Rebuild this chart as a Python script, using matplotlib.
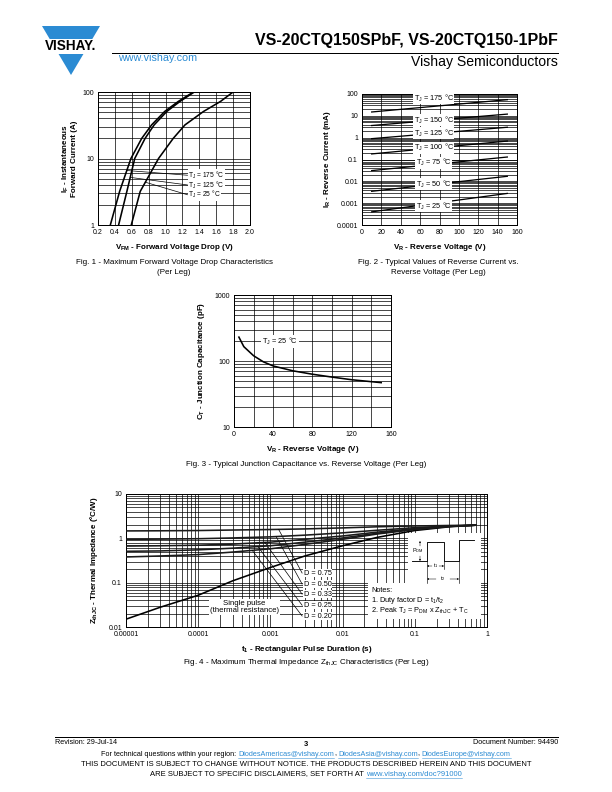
import numpy as np
import matplotlib.pyplot as plt
from matplotlib.patches import Polygon, Rectangle
from matplotlib.ticker import LogLocator, NullFormatter, MultipleLocator

plt.rcParams['font.family'] = ['Liberation Sans', 'DejaVu Sans']
plt.rcParams['mathtext.fontset'] = 'custom'
plt.rcParams['mathtext.rm'] = 'Liberation Sans'
plt.rcParams['mathtext.it'] = 'Liberation Sans:italic'
plt.rcParams['mathtext.bf'] = 'Liberation Sans:bold'

W, H = 612, 792
BLUE = '#2b8bd3'
LAB = 7.4    # in-chart annotation size
AXL = 8      # axis label size
TCK = 7      # tick label size

# Fig. 1 - forward voltage drop (V) at given forward current (A)
if_points = [1, 3.2, 10, 20, 32, 51, 72, 100]
vf_175 = [0.346, 0.456, 0.59, 0.717, 0.835, 0.99, 1.15, 1.33]
vf_125 = [0.444, 0.542, 0.635, 0.757, 0.865, 1.015, 1.17, 1.34]
vf_25 = [0.594, 0.70, 0.917, 1.09, 1.23, 1.45, 1.65, 1.80]
fig1_labels = ['175', '125', '25']
fig1_label_i = [5.6, 4.0, 2.85]
fig1_leader_i = [6.6, 5.2, 4.4]

# Fig. 2 - reverse current (mA) vs reverse voltage (V)
vr_points = [10, 150]
ir_curves = {
    '175': [15, 55],
    '150': [3.6, 12],
    '125': [0.9, 3.0],
    '100': [0.18, 0.7],
    '75': [0.031, 0.13],
    '50': [0.0035, 0.017],
    '25': [0.0004, 0.0028],
}
ir_label_y = [66, 6.5, 1.6, 0.34, 0.07, 0.0076, 0.00074]

# Fig. 3 - junction capacitance (pF) vs reverse voltage (V)
vr_cap = [5, 10, 20, 30, 40, 60, 80, 100, 120, 150]
ct_cap = [230, 165, 120, 97, 84, 71, 63, 57, 52, 47]

# Fig. 4 - thermal impedance (degC/W) vs pulse duration (s)
t_pulse = [1e-5, 3e-5, 1e-4, 3e-4, 1e-3, 3e-3, 1e-2, 3e-2, 0.1, 0.3, 0.7]
z_single = [0.015, 0.028, 0.052, 0.11, 0.22, 0.40, 0.68, 1.05, 1.5, 1.82, 1.98]
z_duty = {
    '0.75': [1.47, 1.48, 1.50, 1.54, 1.58, 1.63, 1.72, 1.82, 1.90, 1.95, 1.98],
    '0.50': [0.95, 0.96, 0.98, 1.02, 1.08, 1.18, 1.33, 1.52, 1.74, 1.90, 1.98],
    '0.33': [0.67, 0.68, 0.70, 0.74, 0.82, 0.95, 1.13, 1.38, 1.65, 1.87, 1.98],
    '0.25': [0.51, 0.52, 0.55, 0.60, 0.68, 0.82, 1.02, 1.30, 1.61, 1.86, 1.98],
    '0.20': [0.38, 0.40, 0.43, 0.49, 0.58, 0.73, 0.95, 1.25, 1.58, 1.85, 1.98],
}
duty_leader_t = [1.3e-3, 1.2e-3, 8.4e-4, 6.7e-4, 5.6e-4]
duty_label_z = [0.165, 0.093, 0.055, 0.031, 0.0177]

fig = plt.figure(figsize=(W / 72, H / 72), dpi=72)


def fxy(x, y):
    return x / W, 1 - y / H


def add_ax(box):
    x0, y0, x1, y1 = box
    return fig.add_axes([x0 / W, 1 - y1 / H, (x1 - x0) / W, (y1 - y0) / H])


def style(ax):
    ax.set_axisbelow(True)
    ax.grid(True, which='both', color='black', lw=0.7)
    ax.tick_params(which='both', length=0, labelsize=TCK, pad=4)
    for s in ax.spines.values():
        s.set_linewidth(1.0)


def log_minor(axis):
    axis.set_minor_locator(LogLocator(base=10, subs=np.arange(2, 10)))
    axis.set_minor_formatter(NullFormatter())


def fig_text(x, y, s, **kw):
    kw.setdefault('fontsize', 8)
    kw.setdefault('va', 'center')
    return fig.text(*fxy(x, y), s, **kw)


# ---------------- header ----------------
fig.patches.append(Polygon([fxy(42, 26), fxy(100, 26), fxy(71, 75)], closed=True,
                           transform=fig.transFigure, color=BLUE, lw=0))
fig.patches.append(Rectangle(fxy(36, 53.5), 70 / W, 15 / H, transform=fig.transFigure,
                             color='white', lw=0))
fig_text(71, 46, 'VISHAY.', ha='center', fontsize=13.5, fontweight='bold')
fig_text(558, 41, 'VS-20CTQ150SPbF, VS-20CTQ150-1PbF', ha='right', fontsize=16,
         fontweight='bold')
fig.lines.append(plt.Line2D([112 / W, 558 / W], [1 - 52.5 / H] * 2, transform=fig.transFigure,
                            color='black', lw=1))
fig_text(118, 58, 'www.vishay.com', ha='left', fontsize=10.7, color=BLUE)
fig_text(558, 62, 'Vishay Semiconductors', ha='right', fontsize=14)

# ---------------- Fig. 1 ----------------
AX1 = (98, 92, 250, 225)
ax1 = add_ax(AX1)
style(ax1)
ax1.set_yscale('log')
ax1.set_xlim(0.2, 2.0)
ax1.set_ylim(1, 100)
ax1.set_xticks(np.arange(0.2, 2.01, 0.2), [f'{v:.1f}' for v in np.arange(0.2, 2.01, 0.2)])
ax1.set_yticks([1, 10, 100], ['1', '10', '100'])
log_minor(ax1.yaxis)
for vf in (vf_175, vf_125, vf_25):
    ax1.plot(vf, if_points, color='black', lw=1.6, zorder=3)
for vf, lab, ly, li in zip((vf_175, vf_125, vf_25), fig1_labels, fig1_label_i, fig1_leader_i):
    v0 = np.interp(np.log10(li), np.log10(if_points), vf)
    ax1.plot([v0, 1.26], [li, ly], color='black', lw=0.7, zorder=3)
    ax1.text(1.27, ly, r'T$_{\mathrm{J}}$ = ' + lab + ' °C', fontsize=6.6, va='center',
             ha='left', zorder=4, bbox=dict(fc='white', ec='none', pad=0.3))
ax1.set_xlabel(r'V$_{\mathbf{FM}}$ - Forward Voltage Drop (V)', fontsize=AXL,
               fontweight='bold', labelpad=6)
ax1.set_ylabel('I$_{\\mathbf{F}}$ - Instantaneous\nForward Current (A)', fontsize=AXL,
               fontweight='bold', labelpad=4, linespacing=1.05)
fig_text(174, 263, 'Fig. 1 - Maximum Forward Voltage Drop Characteristics', ha='center')
fig_text(174, 273, '(Per Leg)', ha='center')

# ---------------- Fig. 2 ----------------
AX2 = (362, 94, 517, 225)
ax2 = add_ax(AX2)
style(ax2)
ax2.set_yscale('log')
ax2.set_xlim(0, 160)
ax2.set_ylim(1e-4, 100)
ax2.set_xticks(np.arange(0, 161, 20))
ax2.set_yticks([1e-4, 1e-3, 1e-2, 0.1, 1, 10, 100],
               ['0.0001', '0.001', '0.01', '0.1', '1', '10', '100'])
log_minor(ax2.yaxis)
for (lab, ir), ly in zip(ir_curves.items(), ir_label_y):
    ax2.plot(vr_points, ir, color='black', lw=1.3, zorder=3)
    ax2.text(74, ly, r'T$_{\mathrm{J}}$ = ' + lab + ' °C', fontsize=LAB, va='center',
             ha='center', zorder=4, bbox=dict(fc='white', ec='none', pad=0.6))
ax2.set_xlabel(r'V$_{\mathbf{R}}$ - Reverse Voltage (V)', fontsize=AXL, fontweight='bold',
               labelpad=6)
ax2.set_ylabel(r'I$_{\mathbf{R}}$ - Reverse Current (mA)', fontsize=AXL, fontweight='bold',
               labelpad=4)
fig_text(438, 263, 'Fig. 2 - Typical Values of Reverse Current vs.', ha='center')
fig_text(438, 273, 'Reverse Voltage (Per Leg)', ha='center')

# ---------------- Fig. 3 ----------------
AX3 = (234, 295, 391, 427)
ax3 = add_ax(AX3)
style(ax3)
ax3.set_yscale('log')
ax3.set_xlim(0, 160)
ax3.set_ylim(10, 1000)
ax3.set_xticks(np.arange(0, 161, 40))
ax3.xaxis.set_minor_locator(MultipleLocator(20))
ax3.set_yticks([10, 100, 1000], ['10', '100', '1000'])
log_minor(ax3.yaxis)
ax3.plot(vr_cap, ct_cap, color='black', lw=1.6, zorder=3)
ax3.text(47, 195, r'T$_{\mathrm{J}}$ = 25 °C', fontsize=LAB, va='center', ha='center',
         zorder=4, bbox=dict(fc='white', ec='none', pad=0.8))
ax3.set_xlabel(r'V$_{\mathbf{R}}$ - Reverse Voltage (V)', fontsize=AXL, fontweight='bold',
               labelpad=6)
ax3.set_ylabel(r'C$_{\mathbf{T}}$ - Junction Capacitance (pF)', fontsize=AXL,
               fontweight='bold', labelpad=7)
fig_text(306, 464, 'Fig. 3 - Typical Junction Capacitance vs. Reverse Voltage (Per Leg)',
         ha='center')

# ---------------- Fig. 4 ----------------
AX4 = (126, 494, 487, 627)
ax4 = add_ax(AX4)
style(ax4)
ax4.set_xscale('log')
ax4.set_yscale('log')
ax4.set_xlim(1e-5, 1)
ax4.set_ylim(0.01, 10)
ax4.set_xticks([1e-5, 1e-4, 1e-3, 1e-2, 0.1, 1],
               ['0.00001', '0.0001', '0.001', '0.01', '0.1', '1'])
ax4.set_yticks([0.01, 0.1, 1, 10], ['0.01', '0.1', '1', '10'])
log_minor(ax4.xaxis)
log_minor(ax4.yaxis)
ax4.plot(t_pulse, z_single, color='black', lw=1.6, zorder=3)
for (lab, z), t0, lz in zip(z_duty.items(), duty_leader_t, duty_label_z):
    ax4.plot(t_pulse, z, color='#1a1a1a', lw=1.6, zorder=3)
    z0 = 10 ** np.interp(np.log10(t0), np.log10(t_pulse), np.log10(z))
    ax4.plot([t0, 2.75e-3], [z0, lz], color='black', lw=0.7, zorder=3)
    ax4.text(2.9e-3, lz, 'D = ' + lab, fontsize=LAB, va='center', ha='left', zorder=4,
             bbox=dict(fc='white', ec='none', pad=0.5))
ax4.text(4.4e-4, 0.028, 'Single pulse\n(thermal resistance)', fontsize=7.8, ha='center',
         va='center', zorder=4, linespacing=1.05,
         bbox=dict(fc='white', ec='none', pad=1.2))


def a4(x, y):
    return ((x - AX4[0]) / (AX4[2] - AX4[0]), (AX4[3] - y) / (AX4[3] - AX4[1]))


def a4_line(xs, ys, **kw):
    pts = [a4(x, y) for x, y in zip(xs, ys)]
    ax4.plot([p[0] for p in pts], [p[1] for p in pts], transform=ax4.transAxes,
             color='black', zorder=5, **kw)


# notes panel with pulse sketch
for x0, y0, x1, y1 in [(368, 583, 481, 619), (408, 533, 481, 585)]:
    p0 = a4(x0, y1)
    p1 = a4(x1, y0)
    ax4.add_patch(Rectangle(p0, p1[0] - p0[0], p1[1] - p0[1], transform=ax4.transAxes,
                            fc='white', ec='none', zorder=4))
a4_line([412, 427, 427, 444, 444, 459, 459, 474], [561, 561, 542, 542, 561, 561, 540, 540],
        lw=0.9)
a4_line([427, 427], [561, 583], lw=0.6)
a4_line([444, 444], [561, 569], lw=0.6)
a4_line([459, 459], [561, 583], lw=0.6)
for (xa, ya), (xb, yb) in [((420, 546), (420, 541)), ((420, 556), (420, 561)),
                            ((432, 566), (427, 566)), ((439, 566), (444, 566)),
                            ((436, 579), (427, 579)), ((450, 579), (459, 579))]:
    ax4.annotate('', xy=a4(xb, yb), xytext=a4(xa, ya), xycoords='axes fraction',
                 textcoords='axes fraction', zorder=6,
                 arrowprops=dict(arrowstyle='-|>', lw=0.5, color='black',
                                 mutation_scale=3, shrinkA=0, shrinkB=0))
ax4.text(*a4(418, 551), r'P$_{\mathrm{DM}}$', transform=ax4.transAxes, fontsize=5.5,
         ha='center', va='center', zorder=6)
ax4.text(*a4(435.5, 566), r't$_{\mathrm{1}}$', transform=ax4.transAxes, fontsize=5.5,
         ha='center', va='center', zorder=6)
ax4.text(*a4(443, 579), r't$_{\mathrm{2}}$', transform=ax4.transAxes, fontsize=5.5,
         ha='center', va='center', zorder=6)
for yy, s in [(590, 'Notes:'), (600.5, r'1. Duty factor D = t$_{\mathrm{1}}$/t$_{\mathrm{2}}$'),
              (611, r'2. Peak T$_{\mathrm{J}}$ = P$_{\mathrm{DM}}$ x Z$_{\mathrm{thJC}}$ + T$_{\mathrm{C}}$')]:
    ax4.text(*a4(371, yy), s, transform=ax4.transAxes, fontsize=LAB, ha='left',
             va='center', zorder=6)

ax4.set_xlabel(r't$_{\mathbf{1}}$ - Rectangular Pulse Duration (s)', fontsize=AXL,
               fontweight='bold', labelpad=6)
ax4.set_ylabel(r'Z$_{\mathbf{thJC}}$ - Thermal Impedance (°C/W)', fontsize=AXL,
               fontweight='bold', labelpad=8)
fig_text(306, 662, r'Fig. 4 - Maximum Thermal Impedance Z$_{\mathrm{thJC}}$ Characteristics (Per Leg)',
         ha='center')

# ---------------- footer ----------------
fig.lines.append(plt.Line2D([55 / W, 558 / W], [1 - 736.5 / H] * 2, transform=fig.transFigure,
                            color='black', lw=1))
fig_text(55, 743, 'Revision: 29-Jul-14', ha='left', fontsize=7.2)
fig_text(306, 744, '3', ha='center', fontsize=7.5, fontweight='bold')
fig_text(558, 743, 'Document Number: 94490', ha='right', fontsize=7.2)

renderer = fig.canvas.get_renderer()


def width_of(s, size):
    t = fig.text(0, 0, s, fontsize=size)
    w = t.get_window_extent(renderer).width
    t.remove()
    return w


def rich_line(y, parts, size):
    # parts: (text, colour, space before)
    space = width_of('a a', size) - width_of('aa', size)
    widths = [width_of(s, size) for s, _, _ in parts]
    total = sum(widths) + space * sum(1 for p in parts[1:] if p[2])
    x = 306 - total / 2
    for (s, c, sp), w in zip(parts, widths):
        if sp:
            x += space
        fig_text(x, y, s, ha='left', fontsize=size, color=c)
        if c == BLUE:
            fig.lines.append(plt.Line2D([x / W, (x + w) / W], [1 - (y + 4.3) / H] * 2,
                                        transform=fig.transFigure, color=BLUE, lw=0.5))
        x += w


rich_line(754, [('For technical questions within your region:', 'black', False),
                ('DiodesAmericas@vishay.com', BLUE, True), (',', 'black', False),
                ('DiodesAsia@vishay.com', BLUE, True), (',', 'black', False),
                ('DiodesEurope@vishay.com', BLUE, True)], 7.2)
fig_text(306, 765, 'THIS DOCUMENT IS SUBJECT TO CHANGE WITHOUT NOTICE. THE PRODUCTS DESCRIBED '
         'HEREIN AND THIS DOCUMENT', ha='center', fontsize=7.6)
rich_line(774, [('ARE SUBJECT TO SPECIFIC DISCLAIMERS, SET FORTH AT', 'black', False),
                ('www.vishay.com/doc?91000', BLUE, True)], 7.6)

fig.savefig('out.png', dpi=72)
